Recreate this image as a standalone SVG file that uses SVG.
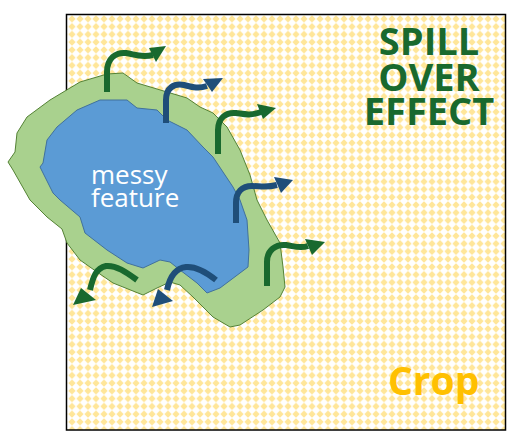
<svg xmlns="http://www.w3.org/2000/svg" width="526" height="447" viewBox="0 0 526 447">
<defs>
<pattern id="diam" x="68" y="15" width="8" height="7.75" patternUnits="userSpaceOnUse">
<rect width="8" height="7.75" fill="#ffffff"/>
<polygon points="4,0.3 7.7,3.875 4,7.45 0.3,3.875" fill="#FFE699"/>
</pattern>
<style>
.g{fill:none;stroke:#19692E;stroke-width:6}
.b{fill:none;stroke:#1F4E79;stroke-width:6}
.gh{fill:#19692E}
.bh{fill:#1F4E79}
.title{font-family:"Open Sans",sans-serif;font-weight:bold;font-size:38px;fill:#19692E;text-anchor:middle}
</style>
</defs>
<rect width="526" height="447" fill="#ffffff"/>
<g id="crop">
<rect x="66.5" y="14.5" width="439" height="415.5" fill="url(#diam)" stroke="#000000" stroke-width="1.5"/>
<text x="388" y="395" font-family="Open Sans, sans-serif" font-weight="bold" font-size="39" fill="#FFC000">Crop</text>
</g>
<g id="spillover-zone">
<path d="M107,74 L123,73 L137,83 L147,86 L187,98 L200,107 L213,113 L227,127 L240,150 L250,175 L257,200 L267,220 L280,243 L283,267 L285,287 L280,297 L263,310 L240,325 L230,327 L213,317 L193,297 L180,285 L170,282 L157,288 L143,295 L113,283 L97,272 L80,260 L67,243 L62,229 L47,217 L30,200 L13,170 L8,162 L15,152 L17,133 L27,117 L50,100 L80,82 Z" fill="#A9D18E" stroke="#548235" stroke-width="1" stroke-linejoin="round"/>
</g>
<g id="messy-feature">
<path d="M100,100 L127,100 L137,108 L157,110 L167,120 L187,130 L203,147 L213,157 L223,172 L233,187 L240,200 L247,220 L249,250 L248,267 L220,288 L207,293 L197,283 L180,270 L170,262 L160,260 L143,268 L127,263 L107,250 L85,233 L80,217 L60,200 L53,193 L40,167 L43,163 L47,140 L57,127 L77,110 Z" fill="#5B9BD5" stroke="#41719C" stroke-width="1" stroke-linejoin="round"/>
<text font-family="Open Sans, sans-serif" font-size="26" fill="#ffffff"><tspan x="91" y="184">messy</tspan><tspan x="91" y="207">feature</tspan></text>
</g>
<g id="title">
<text class="title" x="429" y="55">SPILL</text>
<text class="title" x="429" y="91">OVER</text>
<text class="title" x="429" y="125">EFFECT</text>
</g>
<g id="connectors">
<path class="g" d="M107,92 L107,72 C107,58 116,52 126,53 C134,54 140,58 153,55"/>
<polygon class="gh" points="149,48 166,46 156,62"/>
<path class="b" d="M166,123 L166,100 C166,88 174,83 184,85 C192,87 198,89 207,86"/>
<polygon class="bh" points="203,79 223,78 212,92"/>
<path class="g" d="M218,154 L218,130 C218,118 226,112 236,113 C244,114 250,116 261,112"/>
<polygon class="gh" points="257,104 276,108 263,119"/>
<path class="b" d="M236,223 L236,203 C236,192 242,186 252,186 C260,186 266,188 277,185"/>
<polygon class="bh" points="274,177 293,180 281,193"/>
<path class="g" d="M267,286 L267,262 C267,250 276,244 286,245 C294,246 300,249 308,246"/>
<polygon class="gh" points="305,239 325,242 312,255"/>
<path class="g" d="M137,280 C126,272 116,265 106,266 C96,268 93,277 90,290"/>
<polygon class="gh" points="81,288 73,305 96,300"/>
<path class="b" d="M216,280 C206,272 196,266 186,267 C176,268 170,276 167,290"/>
<polygon class="bh" points="158,289 152,307 173,301"/>
</g>
</svg>
